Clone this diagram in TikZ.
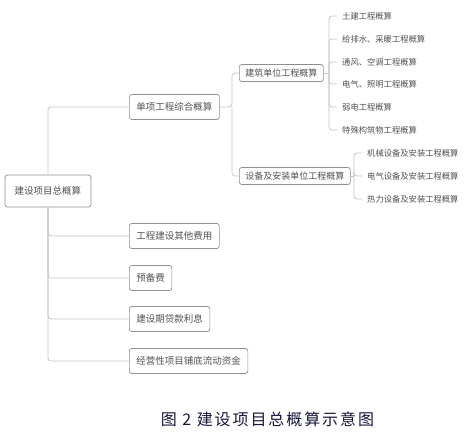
\documentclass[tikz,border=0pt]{standalone}
\usepackage{fontspec}
\newfontfamily\cjk{Noto Sans CJK SC}
\newfontfamily\capfont[LetterSpace=12]{Noto Sans CJK SC}
\usetikzlibrary{positioning}
\definecolor{txtgray}{HTML}{505050}
\definecolor{boxline}{HTML}{8E8E8E}
\definecolor{linkline}{HTML}{C4C4C4}
\definecolor{capcol}{HTML}{15153A}

\begin{document}
\begin{tikzpicture}[x=1pt, y=-1pt, every node/.style={font=\cjk\fontsize{9.5}{11}\selectfont, text=txtgray},
  box/.style={draw=boxline, rounded corners=2.5pt, line width=0.7pt, inner xsep=7pt, minimum height=25pt, anchor=west},
  subbox/.style={box, font=\cjk\fontsize{9}{10}\selectfont, inner xsep=6pt, minimum height=17pt},
  leaf/.style={font=\cjk\fontsize{8.3}{10}\selectfont, inner sep=1pt, anchor=west},
  link/.style={draw=linkline, line width=0.8pt, rounded corners=3pt}]

\useasboundingbox (0,0) rectangle (467,436);

% Root
\node[box, anchor=center, minimum width=86pt, minimum height=32pt] (root) at (48,191) {建设项目总概算};

% Level 1
\node[box] (dx) at (129,107) {单项工程综合概算};
\node[box] (qt) at (129,236) {工程建设其他费用};
\node[box] (yb) at (129,278) {预备费};
\node[box] (lx) at (129,319) {建设期贷款利息};
\node[box] (ld) at (129,361) {经营性项目铺底流动资金};

% Level 2
\node[subbox] (jz) at (239,73) {建筑单位工程概算};
\node[subbox] (sb) at (239,176) {设备及安装单位工程概算};

% Leaves of jz
\node[leaf] (t1) at (341,16) {土建工程概算};
\node[leaf] (t2) at (341,39) {给排水、采暖工程概算};
\node[leaf] (t3) at (341,62) {通风、空调工程概算};
\node[leaf] (t4) at (341,84) {电气、照明工程概算};
\node[leaf] (t5) at (341,107) {弱电工程概算};
\node[leaf] (t6) at (341,130) {特殊构筑物工程概算};

% Leaves of sb
\node[leaf] (s1) at (366,153) {机械设备及安装工程概算};
\node[leaf] (s2) at (366,176) {电气设备及安装工程概算};
\node[leaf] (s3) at (366,199) {热力设备及安装工程概算};

% Caption
\node[font=\capfont\fontsize{16}{18}\selectfont, text=capcol] (cap) at (267.5,419) {图 2 建设项目总概算示意图};

% Bracket points
\coordinate (b1) at (232,107);
\coordinate (b2) at (329,73);
\coordinate (b3) at (354,176);

% Root -> level 1
\draw[link] (root.north) |- (dx.west);
\foreach \i in {qt,yb,lx,ld} {
  \draw[link] (root.south) |- (\i.west);
}

% dx -> level 2
\draw[link] (dx.east) -- (b1) |- (jz.west);
\draw[link] (b1) |- (sb.west);

% jz -> leaves
\draw[link] (jz.east) -- (b2);
\foreach \i in {t1,t2,t3,t4,t5,t6} {
  \draw[link, shorten >=4pt] (b2) |- (\i.west);
}

% sb -> leaves
\draw[link] (sb.east) -- (b3);
\foreach \i in {s1,s2,s3} {
  \draw[link, shorten >=4pt] (b3) |- (\i.west);
}

\end{tikzpicture}
\end{document}
